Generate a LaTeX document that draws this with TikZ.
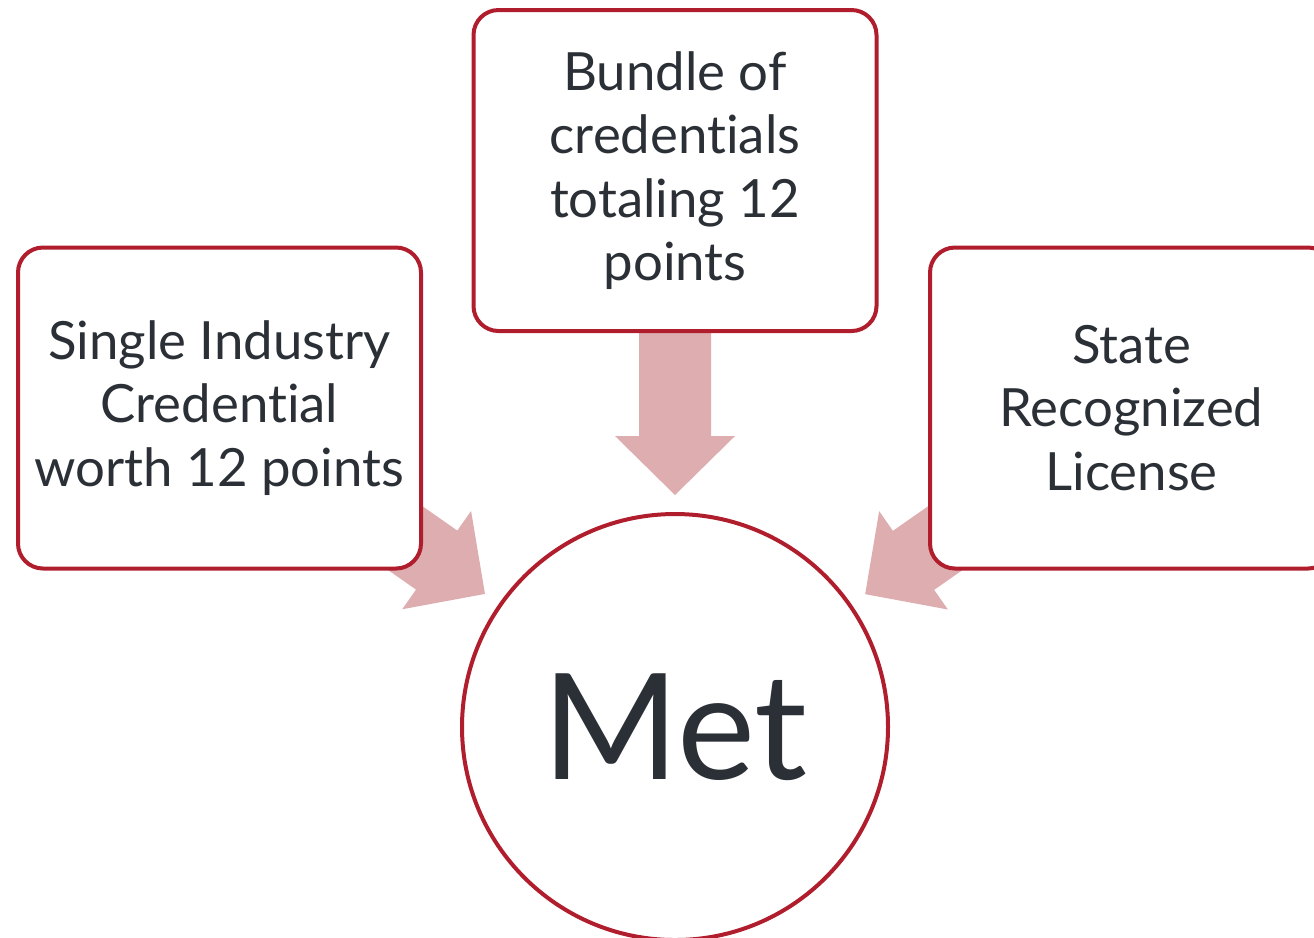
\documentclass[tikz,border=0pt]{standalone}
\usepackage{fontspec}
\setmainfont{Lato}[Ligatures=NoCommon]
\usetikzlibrary{calc,backgrounds}
\definecolor{boxred}{RGB}{176,30,46}
\definecolor{arrowpink}{RGB}{222,173,175}
\definecolor{inkgrey}{RGB}{43,47,54}
% block arrow from a box towards the circle
\def\blockarrow#1#2{%
	\path ($(met.center)!3.96cm!(#1.center)$) coordinate (#2tail)
		($(met.center)!2.32cm!(#1.center)$) coordinate (#2tip)
		($(#2tip)!0.59cm!(#2tail)$) coordinate (#2head);
	\fill[arrowpink] ($(#2tail)!0.36cm!90:(#2tip)$) -- ($(#2head)!0.36cm!90:(#2tip)$)
		-- ($(#2head)!0.60cm!90:(#2tip)$) -- (#2tip) -- ($(#2head)!0.60cm!-90:(#2tip)$)
		-- ($(#2head)!0.36cm!-90:(#2tip)$) -- ($(#2tail)!0.36cm!-90:(#2tip)$) -- cycle;}

\begin{document}
\begin{tikzpicture}[
		credbox/.style={draw=boxred, line width=0.04cm, fill=white, rounded corners=0.25cm,
			minimum width=4.03cm, minimum height=3.21cm, align=center, text=inkgrey,
			font=\fontsize{15}{18}\selectfont},
		metcircle/.style={circle, draw=boxred, line width=0.04cm, fill=white,
			minimum size=4.26cm, text=inkgrey, font=\fontsize{42}{48}\selectfont}]
			%%%%% START %%%%%
			
			\useasboundingbox (0, 0) rectangle (13.14, -9.37);
			
			\node[credbox] (bundle) at (6.75, -1.705) {Bundle of\\credentials\\totaling 12\\points};
			\node[credbox] (single) at (2.195, -4.08) {Single Industry\\Credential\\worth 12 points};
			\node[credbox] (license) at (11.315, -4.08) {State\\Recognized\\License};
			
			\node[metcircle] (met) at (6.75, -7.27) {Met};
			
			\begin{scope}[on background layer]
				\blockarrow{bundle}{b}
				\blockarrow{single}{s}
				\blockarrow{license}{l}
			\end{scope}
			
			%%%%% END %%%%%
\end{tikzpicture}
\end{document}
